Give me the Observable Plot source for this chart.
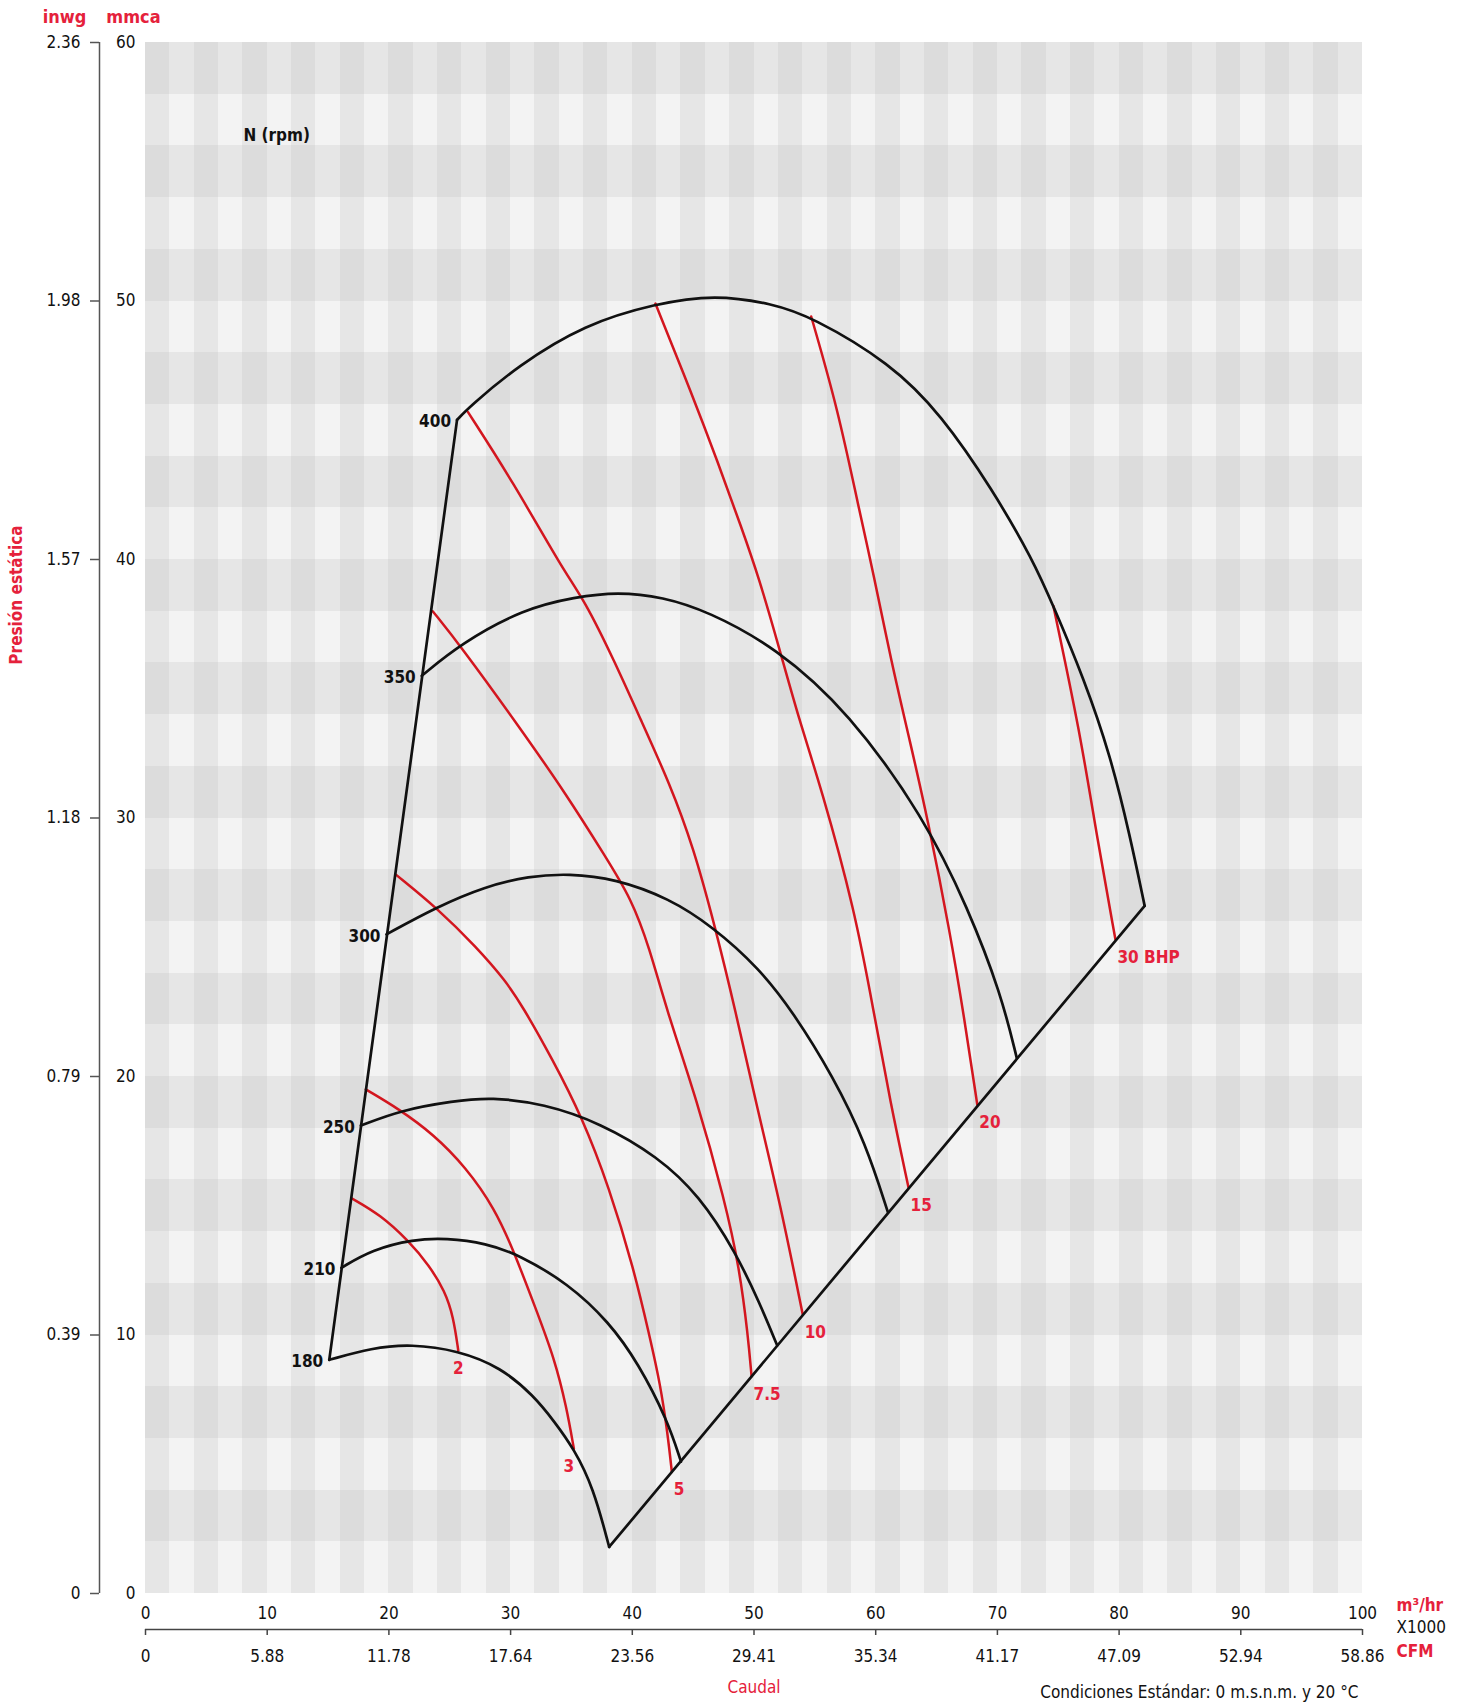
<!DOCTYPE html>
<html><head><meta charset="utf-8">
<script src="https://cdn.jsdelivr.net/npm/d3@7"></script>
<script src="https://cdn.jsdelivr.net/npm/@observablehq/plot@0.6"></script>
<style>
body{margin:0;background:#fff;}
#chart{width:1462px;height:1703px;}
</style></head><body><div id="chart"></div>
<script>
// ---- axis data ----
const flowTicks = [0,10,20,30,40,50,60,70,80,90,100];
const cfmLabels = ["0","5.88","11.78","17.64","23.56","29.41","35.34","41.17","47.09","52.94","58.86"];
const mmcaTicks = [0,10,20,30,40,50,60];
const inwgLabels = ["0","0.39","0.79","1.18","1.57","1.98","2.36"];

// ---- fan curves (x: m3/hr x1000, y: mmca) ----
const rpmValues = [180,210,250,300,350,400];
const fan180 = [[15.1,9.04],[18.6,9.5],[21.8,9.65],[25.7,9.4],[29.2,8.75],[31.9,7.65],[33.6,6.65],[35.2,5.6],[36.8,4.1],[38.1,1.8]];
const fan210 = [[16.1,12.6],[18.6,13.3],[22.0,13.7],[24.7,13.75],[28.0,13.55],[30.7,13.1],[34.7,12.0],[38.1,10.5],[40.5,8.9],[42.9,6.7],[44.0,5.1]];
const fan250 = [[17.7,18.1],[21.0,18.7],[25.3,19.05],[28.4,19.2],[32.7,18.95],[37.4,18.2],[42.1,16.9],[45.5,15.4],[48.5,13.2],[50.5,11.2],[51.9,9.6]];
const fan300 = [[19.8,25.5],[23.9,26.55],[27.9,27.35],[31.5,27.75],[34.8,27.85],[38.6,27.65],[43.0,26.9],[46.6,25.8],[50.4,24.2],[53.2,22.5],[56.5,20.0],[59.2,17.4],[61.0,14.75]];
const fan350 = [[22.7,35.5],[25.9,36.75],[31.1,38.1],[35.3,38.55],[38.8,38.75],[42.5,38.55],[46.2,38.0],[51.8,36.6],[57.8,34.1],[64.0,30.0],[67.6,26.5],[70.3,23.2],[71.6,20.7]];
const fan400 = [[25.6,45.4],[26.6,45.9],[30.6,47.5],[36.1,49.1],[41.9,49.9],[46.8,50.25],[51.5,49.9],[54.7,49.4],[61.2,47.6],[65.4,45.6],[69.6,42.7],[72.9,40.0],[74.6,38.2],[77.1,35.4],[79.3,32.4],[80.9,29.3],[82.1,26.6]];

// ---- brake horsepower lines ----
const bhpLabels = ["2","3","5","7.5","10","15","20","30 BHP"];
const bhp2 = [[16.9,15.3],[19.3,14.65],[21.6,13.65],[23.3,12.7],[24.6,11.7],[25.3,10.7],[25.7,9.4]];
const bhp3 = [[18.1,19.5],[20.8,18.75],[23.7,17.75],[26.3,16.5],[28.7,14.9],[30.3,13.2],[32.0,11.1],[33.6,9.1],[34.6,7.2],[35.2,5.6]];
const bhp5 = [[20.6,27.8],[24.0,26.5],[27.2,25.0],[29.6,23.7],[31.0,22.7],[33.4,20.7],[35.9,18.4],[38.1,15.7],[40.1,12.6],[41.4,10.0],[42.3,8.1],[42.9,6.2],[43.25,4.7]];
const bhp7_5 = [[23.6,38.0],[25.9,36.65],[30.6,33.6],[34.6,30.9],[37.8,28.5],[39.9,26.9],[41.4,25.0],[42.8,22.6],[45.3,19.1],[47.6,15.2],[48.8,12.6],[49.5,10.0],[49.8,8.4]];
const bhp10 = [[26.5,45.7],[30.2,43.0],[34.3,39.6],[36.1,38.4],[38.5,36.1],[40.7,33.8],[43.1,31.3],[45.0,28.9],[46.8,25.8],[48.5,22.5],[50.1,19.1],[52.2,15.0],[54.0,10.8]];
const bhp15 = [[41.9,49.9],[44.9,46.4],[47.0,43.8],[49.0,41.2],[50.4,39.3],[52.0,36.7],[53.7,33.8],[55.5,31.2],[58.3,26.4],[59.8,22.6],[61.2,19.0],[62.7,15.7]];
const bhp20 = [[54.7,49.4],[56.9,45.8],[58.6,42.0],[59.8,39.5],[61.3,36.0],[62.8,33.0],[64.3,29.9],[66.1,25.6],[67.3,22.2],[68.35,18.9]];
const bhp30 = [[74.6,38.2],[76.8,33.3],[78.2,29.2],[79.7,25.3]];

// ---- build tables ----
const fanSeries = [fan180,fan210,fan250,fan300,fan350,fan400].map((pts,i)=>({rpm:rpmValues[i], pts}));
const bhpSeries = [bhp2,bhp3,bhp5,bhp7_5,bhp10,bhp15,bhp20,bhp30].map((pts,i)=>({label:bhpLabels[i], pts}));
const fanRows = fanSeries.flatMap(s=>s.pts.map(([x,y])=>({x,y,rpm:s.rpm})));
const bhpRows = bhpSeries.flatMap(s=>s.pts.map(([x,y])=>({x,y,label:s.label})));
const fanStarts = fanSeries.map(s=>({x:s.pts[0][0], y:s.pts[0][1], rpm:s.rpm}));
const bhpEnds = bhpSeries.map(s=>({x:s.pts[s.pts.length-1][0], y:s.pts[s.pts.length-1][1], label:s.label}));
const leftEdge = [fan180[0], fan400[0]].map(([x,y])=>({x,y}));
const rightEdge = [fan180[fan180.length-1], fan400[fan400.length-1]].map(([x,y])=>({x,y}));

// ---- background checker bands ----
const rowStarts = d3.range(0,60,2), colStarts = d3.range(0,100,2);
const shades = ["#f3f3f3","#e6e6e6","#dcdcdc"];
const cells = rowStarts.flatMap((y,i)=>colStarts.map((x,j)=>({x1:x,x2:x+2,y1:y,y2:y+2,fill:shades[(i%2)+(j%2===0?1:0)]})));

const RED_LINE = "#d3161f", RED_TEXT = "#e5213b", FONT = "'Liberation Sans Narrow','Arial Narrow','DejaVu Sans Condensed',sans-serif";

const chart = Plot.plot({
  width:1462, height:1703,
  marginLeft:145, marginRight:100, marginTop:42, marginBottom:110,
  x:{domain:[0,100], axis:null},
  y:{domain:[0,60], axis:null},
  color:{type:"identity"},
  style:{fontFamily:FONT, fontSize:"17px", background:"#fff", overflow:"visible"},
  marks:[
    Plot.rect(cells,{x1:"x1",x2:"x2",y1:"y1",y2:"y2",fill:"fill",shapeRendering:"crispEdges"}),
    // left axis
    Plot.ruleX([0],{y1:0,y2:60,dx:-46,stroke:"#555",strokeWidth:1.5}),
    Plot.axisY({ticks:mmcaTicks, anchor:"left", tickSize:9, tickPadding:10, dx:-46, stroke:"#555", strokeWidth:1.5, fill:"#111",
      tickFormat:d=>inwgLabels[mmcaTicks.indexOf(d)], label:null, fontSize:17}),
    Plot.axisY({ticks:mmcaTicks, anchor:"left", tickSize:0, tickPadding:10, fill:"#111", tickFormat:d=>String(d), label:null, fontSize:17}),
    // bottom axis
    Plot.ruleY([0],{x1:0,x2:100,dy:36,stroke:"#444",strokeWidth:1.5}),
    Plot.axisX({ticks:flowTicks, anchor:"bottom", tickSize:6, tickPadding:14, dy:36, stroke:"#444", strokeWidth:1.5, fill:"#111",
      tickFormat:d=>cfmLabels[flowTicks.indexOf(d)], label:null, fontSize:17}),
    Plot.axisX({ticks:flowTicks, anchor:"bottom", tickSize:0, tickPadding:13, fill:"#111", tickFormat:d=>String(d), label:null, fontSize:17}),
    // curves
    Plot.line(bhpRows,{x:"x",y:"y",z:"label",stroke:RED_LINE,strokeWidth:2.5,curve:"basis"}),
    Plot.line(fanRows,{x:"x",y:"y",z:"rpm",stroke:"#111",strokeWidth:2.7,curve:"basis"}),
    Plot.line(leftEdge,{x:"x",y:"y",stroke:"#111",strokeWidth:2.7}),
    Plot.line(rightEdge,{x:"x",y:"y",stroke:"#111",strokeWidth:2.7}),
    // labels
    Plot.text(fanStarts,{x:"x",y:"y",text:d=>String(d.rpm),textAnchor:"end",dx:-6,dy:2,fontWeight:"bold",fontSize:17,fill:"#111"}),
    Plot.text(bhpEnds.filter(d=>d.label==="2"),{x:"x",y:"y",text:"label",textAnchor:"middle",dy:18,fontWeight:"bold",fontSize:17,fill:RED_TEXT}),
    Plot.text(bhpEnds.filter(d=>d.label==="3"),{x:"x",y:"y",text:"label",textAnchor:"middle",dx:-5,dy:18,fontWeight:"bold",fontSize:17,fill:RED_TEXT}),
    Plot.text(bhpEnds.filter(d=>!(d.label==="2"||d.label==="3")),{x:"x",y:"y",text:"label",textAnchor:"start",dx:2,dy:18,fontWeight:"bold",fontSize:17,fill:RED_TEXT}),
    Plot.text([{x:8.05,y:56.4,t:"N (rpm)"}],{x:"x",y:"y",text:"t",textAnchor:"start",fontWeight:"bold",fontSize:17,fill:"#111"}),
    // titles
    Plot.text(["inwg"],{frameAnchor:"top-left",text:d=>d,textAnchor:"middle",dx:-81,dy:-32,fontWeight:"bold",fontSize:18,fill:RED_TEXT}),
    Plot.text(["mmca"],{frameAnchor:"top-left",text:d=>d,textAnchor:"middle",dx:-12,dy:-32,fontWeight:"bold",fontSize:18,fill:RED_TEXT}),
    Plot.text(["Presión estática"],{frameAnchor:"left",text:d=>d,rotate:-90,textAnchor:"middle",dx:-129,dy:-223,fontWeight:"bold",fontSize:17,fill:RED_TEXT}),
    Plot.text(["m³/hr"],{frameAnchor:"bottom-right",text:d=>d,textAnchor:"start",dx:34,dy:17,fontWeight:"bold",fontSize:17,fill:RED_TEXT}),
    Plot.text(["X1000"],{frameAnchor:"bottom-right",text:d=>d,textAnchor:"start",dx:34,dy:39,fontSize:17,fill:"#111"}),
    Plot.text(["CFM"],{frameAnchor:"bottom-right",text:d=>d,textAnchor:"start",dx:34,dy:63,fontWeight:"bold",fontSize:17,fill:RED_TEXT}),
    Plot.text(["Caudal"],{frameAnchor:"bottom",text:d=>d,textAnchor:"middle",dy:99,fontSize:17,fill:RED_TEXT}),
    Plot.text(["Condiciones Estándar: 0 m.s.n.m. y 20 °C"],{frameAnchor:"bottom-right",text:d=>d,textAnchor:"end",dx:-4,dy:104,fontSize:17,fill:"#111"})
  ]
});
document.getElementById("chart").append(chart);
</script></body></html>
